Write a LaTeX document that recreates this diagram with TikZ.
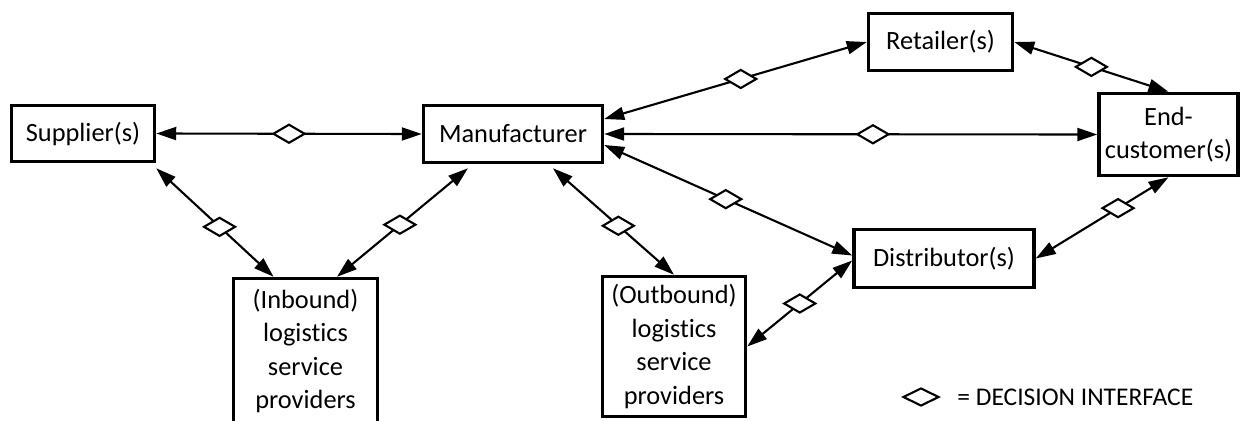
\documentclass[tikz,border=0pt]{standalone}
\usepackage{fontspec}
\setmainfont{Carlito}[Ligatures=NoCommon]
\usetikzlibrary{positioning,arrows.meta,shapes.geometric}

\begin{document}
\begin{tikzpicture}[x=0.02cm,y=-0.02cm,
        box/.style={draw, line width=2pt, align=center, inner sep=0pt,
            font=\fontsize{15}{19}\selectfont},
        link/.style={{Triangle[length=4mm,width=2.6mm]}-{Triangle[length=4mm,width=2.6mm]}, line width=1.2pt},
        dia/.style={diamond, draw, fill=white, line width=1.2pt, inner sep=0pt,
            minimum width=0.64cm, minimum height=0.38cm}]
        \useasboundingbox (0,0) rectangle (1241,420);
        % Nodes
        \node (sup) at (83,133.5) [box, minimum width=2.86cm, minimum height=1.12cm] {Supplier(s)};
        \node (man) at (513,134) [box, minimum width=3.58cm, minimum height=1.14cm] {Manufacturer};
        \node (ret) at (940.5,42) [box, minimum width=2.88cm, minimum height=1.14cm] {Retailer(s)};
        \node (endc) at (1168.5,134.5) [box, minimum width=2.78cm, minimum height=1.64cm] {End-\\customer(s)};
        \node (dis) at (944,258.5) [box, minimum width=3.6cm, minimum height=1.16cm] {Distributor(s)};
        \node (inb) at (305.5,351) [box, minimum width=2.88cm, minimum height=2.9cm] {(Inbound)\\logistics\\service\\providers};
        \node (outb) at (674,346.5) [box, minimum width=2.86cm, minimum height=2.8cm] {(Outbound)\\logistics\\service\\providers};

        % Edges
        \draw[link] (sup.east) -- node[dia, pos=0.5] (d1) {} (man.west);
        \draw[link] ([yshift=-0.1cm]sup.south east) -- node[dia, pos=0.54] (d2) {} ([xshift=-0.64cm]inb.north);
        \draw[link] ([xshift=-0.9cm,yshift=-0.08cm]man.south) -- node[dia, pos=0.52] (d3) {} ([xshift=0.63cm]inb.north);
        \draw[link] ([xshift=0.8cm,yshift=-0.08cm]man.south) -- node[dia, pos=0.54] (d4) {} (outb.north);
        \draw[link] ([yshift=0.3cm]man.east) -- node[dia, pos=0.52] (d5) {} (ret.west);
        \draw[link] (man.east) -- node[dia, pos=0.545] (d6) {} (endc.west);
        \draw[link] ([yshift=-0.22cm]man.east) -- node[dia, pos=0.49] (d7) {} ([yshift=0.06cm]dis.west);
        \draw[link] ([yshift=-0.04cm]dis.west) -- node[dia, pos=0.5] (d8) {} (outb.east);
        \draw[link] (ret.east) -- node[dia, pos=0.5] (d9) {} (endc.north);
        \draw[link] (endc.south) -- node[dia, pos=0.38] (d10) {} (dis.east);

        % Key
        \node (key) at (921,397) [dia, minimum width=0.72cm, minimum height=0.36cm] {};
        \node (keytext) [right=0.34cm of key, inner sep=0pt, font=\fontsize{14.5}{17}\selectfont] {= DECISION INTERFACE};
\end{tikzpicture}
\end{document}
